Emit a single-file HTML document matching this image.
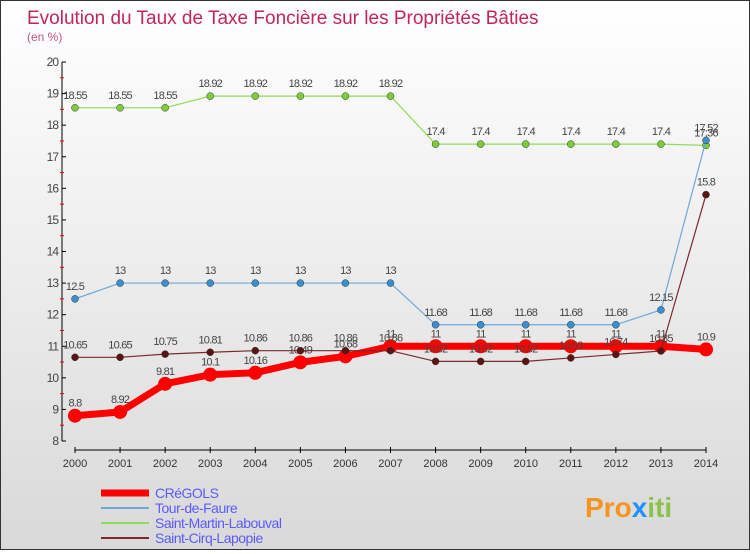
<!DOCTYPE html>
<html><head><meta charset="utf-8"><style>
body{margin:0;width:750px;height:550px;overflow:hidden;font-family:"Liberation Sans",sans-serif}
#wrap{position:absolute;left:0;top:0;width:748px;height:548px;border:1px solid #333;background:linear-gradient(#fff,#d9d9d9)}
</style></head><body>
<div id="wrap">
<svg id="chart" width="748" height="548">
<text x="26" y="23" font-size="19" fill="#c2255c">Evolution du Taux de Taxe Foncière sur les Propriétés Bâties</text>
<text x="26" y="40" font-size="12" fill="#c2557c">(en %)</text>
<g id="axes"></g><g id="series"></g><g id="legend"></g>
<text x="584" y="516" font-size="28" font-weight="bold" fill="#f7941d">Pro<tspan fill="#1e90ff">x</tspan><tspan fill="#8bc34a">iti</tspan></text>
</svg></div>
<script>
const years=[2000,2001,2002,2003,2004,2005,2006,2007,2008,2009,2010,2011,2012,2013,2014];
const yTicks=[8,9,10,11,12,13,14,15,16,17,18,19,20];
const cregols=[8.8,8.92,9.81,10.1,10.16,10.49,10.68,11,11,11,11,11,11,11,10.9];
const tourDeFaure=[12.5,13,13,13,13,13,13,13,11.68,11.68,11.68,11.68,11.68,12.15,17.52];
const saintMartin=[18.55,18.55,18.55,18.92,18.92,18.92,18.92,18.92,17.4,17.4,17.4,17.4,17.4,17.4,17.36];
const saintCirq=[10.65,10.65,10.75,10.81,10.86,10.86,10.86,10.86,10.52,10.52,10.52,10.63,10.74,10.85,15.8];
const seriesNames=["CRéGOLS","Tour-de-Faure","Saint-Martin-Labouval","Saint-Cirq-Lapopie"];
const NS="http://www.w3.org/2000/svg";
const x=i=>74+i*(705-74)/(years.length-1);
const y=v=>440-(v-8)*(440-61)/12;
function mk(p,t,a){const e=document.createElementNS(NS,t);for(const k in a)e.setAttribute(k,a[k]);p.appendChild(e);return e;}
const ax=document.getElementById('axes');
let e=mk(ax,'line',{x1:61,y1:61,x2:61,y2:440,stroke:'#000'});

e=mk(ax,'line',{x1:74,y1:449,x2:705,y2:449,stroke:'#000'});

yTicks.forEach(v=>{
 mk(ax,'line',{x1:61,y1:y(v),x2:65,y2:y(v),stroke:'#000'});
 if(v<20)mk(ax,'line',{x1:59,y1:y(v+0.5),x2:63,y2:y(v+0.5),stroke:'#e00'});
 const t=mk(ax,'text',{x:57,y:y(v)+4,'font-size':12,'text-anchor':'end',fill:'#444','letter-spacing':'-1'});
 t.textContent=v;
 
});
years.forEach((yr,i)=>{
 mk(ax,'line',{x1:x(i),y1:446,x2:x(i),y2:452,stroke:'#000'});
 const t=mk(ax,'text',{x:x(i),y:466,'font-size':11,'text-anchor':'middle',fill:'#333'});
 t.textContent=yr;
 
});
const sg=document.getElementById('series');
function draw(data,color,w,r,name,dot){
 const g=mk(sg,'g',{});
 
 const p=mk(g,'polyline',{points:data.map((v,i)=>x(i)+','+y(v)).join(' '),fill:'none',stroke:color,'stroke-width':w});
 
 data.forEach((v,i)=>{
  const c=mk(g,'circle',{cx:x(i),cy:y(v),r:r,fill:dot,stroke:'#333','stroke-width':r>5?0:0.5});
  
  const t=mk(g,'text',{x:x(i),y:y(v)-9,'font-size':11,'text-anchor':'middle',fill:'#444','letter-spacing':'-0.8'});
  t.textContent=v;
  
 });
}
draw(saintMartin,'#8fdc5a',1.2,3.5,'saint-martin-labouval','#7ccc3c');
draw(tourDeFaure,'#6fa8d8',1.2,3.5,'tour-de-faure','#3a8fd0');
draw(cregols,'#f00',7,7,'cregols','#f00');
draw(saintCirq,'#7a2a2a',1.2,3.5,'saint-cirq-lapopie','#5a1414');
const lg=document.getElementById('legend');
const lc=['#f00','#6fa8d8','#8fdc5a','#7a2a2a'],lw=[7,2,2,2];
seriesNames.forEach((n,i)=>{
 const yy=492+i*15;
 const l=mk(lg,'line',{x1:100,y1:yy,x2:148,y2:yy,stroke:lc[i],'stroke-width':lw[i]});
 
 const t=mk(lg,'text',{x:154,y:yy+5,'font-size':14,fill:'#5a5aff','letter-spacing':'-0.5'});
 t.textContent=n;
 
});
</script></body></html>
